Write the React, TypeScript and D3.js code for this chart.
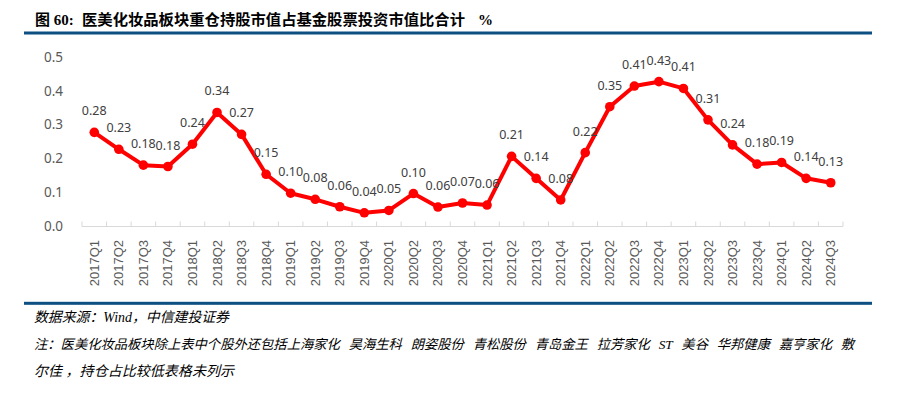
import React from "react";
import * as d3 from "d3";

const categories = [
  "2017Q1","2017Q2","2017Q3","2017Q4","2018Q1","2018Q2","2018Q3","2018Q4",
  "2019Q1","2019Q2","2019Q3","2019Q4","2020Q1","2020Q2","2020Q3","2020Q4",
  "2021Q1","2021Q2","2021Q3","2021Q4","2022Q1","2022Q2","2022Q3","2022Q4",
  "2023Q1","2023Q2","2023Q3","2023Q4","2024Q1","2024Q2","2024Q3",
];
const values = [
  0.277, 0.227, 0.180, 0.176, 0.242, 0.336, 0.271, 0.153,
  0.097, 0.079, 0.057, 0.039, 0.046, 0.096, 0.056, 0.068,
  0.062, 0.206, 0.141, 0.077, 0.217, 0.353, 0.414, 0.427,
  0.407, 0.314, 0.240, 0.183, 0.188, 0.141, 0.128,
];
const yTicks = [0, 0.1, 0.2, 0.3, 0.4, 0.5];
const titlePrefix = "图 60:";
const titleMain = "医美化妆品板块重仓持股市值占基金股票投资市值比合计";
const titleUnit = "%";
const sourceLine = "数据来源：Wind，中信建投证券";
const noteLine1 = "注：医美化妆品板块除上表中个股外还包括上海家化 昊海生科 朗姿股份 青松股份 青岛金王 拉芳家化 ST 美谷 华邦健康 嘉亨家化 敷";
const noteLine2 = "尔佳 ，持仓占比较低表格未列示";

export default function App() {
  const W = 912, H = 398;
  const x = d3.scaleBand<string>().domain(categories).range([82, 843]).padding(0);
  const y = d3.scaleLinear().domain([0, 0.5]).range([226, 57]);
  const cx = (c: string) => (x(c) ?? 0) + x.bandwidth() / 2;
  const line = d3.line<number>().x((_, i) => cx(categories[i])).y((v) => y(v));
  const fmt = d3.format(".2f");
  const boundaries = d3.range(categories.length + 1).map((i) => 82 + i * x.bandwidth());
  const labelFont = "'Noto Sans', 'DejaVu Sans', sans-serif";
  const footFont = "'Liberation Serif', 'Noto Sans CJK SC', serif";

  return (
    <svg width={W} height={H} style={{ position: "absolute", left: 0, top: 0, background: "#fff" }}>
      <rect x={0} y={0} width={W} height={H} fill="#fff" />
      {/* title */}
      <text x={35} y={25} fontSize={15} fontWeight="bold" fill="#000"
        fontFamily="'Liberation Serif', 'Noto Sans CJK SC', serif">{titlePrefix}</text>
      <text x={82} y={25} fontSize={15} fontWeight="bold" fill="#000"
        fontFamily="'Noto Sans CJK SC', sans-serif" textLength={383} lengthAdjust="spacingAndGlyphs">{titleMain}</text>
      <text x={478} y={25} fontSize={15} fontWeight="bold" fill="#000"
        fontFamily="'Liberation Serif', serif">{titleUnit}</text>
      <rect x={24} y={31.5} width={848} height={3} fill="#0c4f80" />

      {/* y tick labels */}
      {yTicks.map((t) => (
        <text key={t} x={63} y={y(t)} dy="0.35em" textAnchor="end" fontSize={13.5}
          fill="#595959" fontFamily={labelFont}>{d3.format(".1f")(t)}</text>
      ))}

      {/* x axis */}
      <line x1={82} x2={843} y1={226.5} y2={226.5} stroke="#d9d9d9" strokeWidth={1} />
      {boundaries.map((bx, i) => (
        <line key={i} x1={bx} x2={bx} y1={221.5} y2={226.5} stroke="#d9d9d9" strokeWidth={1} />
      ))}
      {categories.map((c) => (
        <text key={c} x={cx(c)} y={240} dy="0.35em" textAnchor="end" fontSize={13}
          fill="#595959" fontFamily="'Liberation Sans', Arial, sans-serif"
          transform={`rotate(-90, ${cx(c)}, 240)`}>{c}</text>
      ))}

      {/* series */}
      <path d={line(values) ?? ""} fill="none" stroke="#ff0000" strokeWidth={4} strokeLinejoin="round" />
      {values.map((v, i) => (
        <circle key={i} cx={cx(categories[i])} cy={y(v)} r={4.8} fill="#ff0000" />
      ))}
      {values.map((v, i) => (
        <text key={"l" + i} x={cx(categories[i])} y={y(v) - 17} textAnchor="middle" fontSize={12.5}
          fill="#404040" fontFamily={labelFont}>{fmt(v)}</text>
      ))}

      {/* footer */}
      <rect x={24} y={301.8} width={848} height={3} fill="#0c4f80" />
      <text x={34} y={322} fontSize={14} fontStyle="italic" fill="#000" fontFamily={footFont}
        textLength={195} lengthAdjust="spacingAndGlyphs">{sourceLine}</text>
      <text x={34} y={349} fontSize={13.3} fontStyle="italic" fill="#000" fontFamily={footFont}
        wordSpacing={5.5}>{noteLine1}</text>
      <text x={34} y={376} fontSize={14} fontStyle="italic" fill="#000" fontFamily={footFont}
        textLength={200} lengthAdjust="spacingAndGlyphs">{noteLine2}</text>
    </svg>
  );
}
